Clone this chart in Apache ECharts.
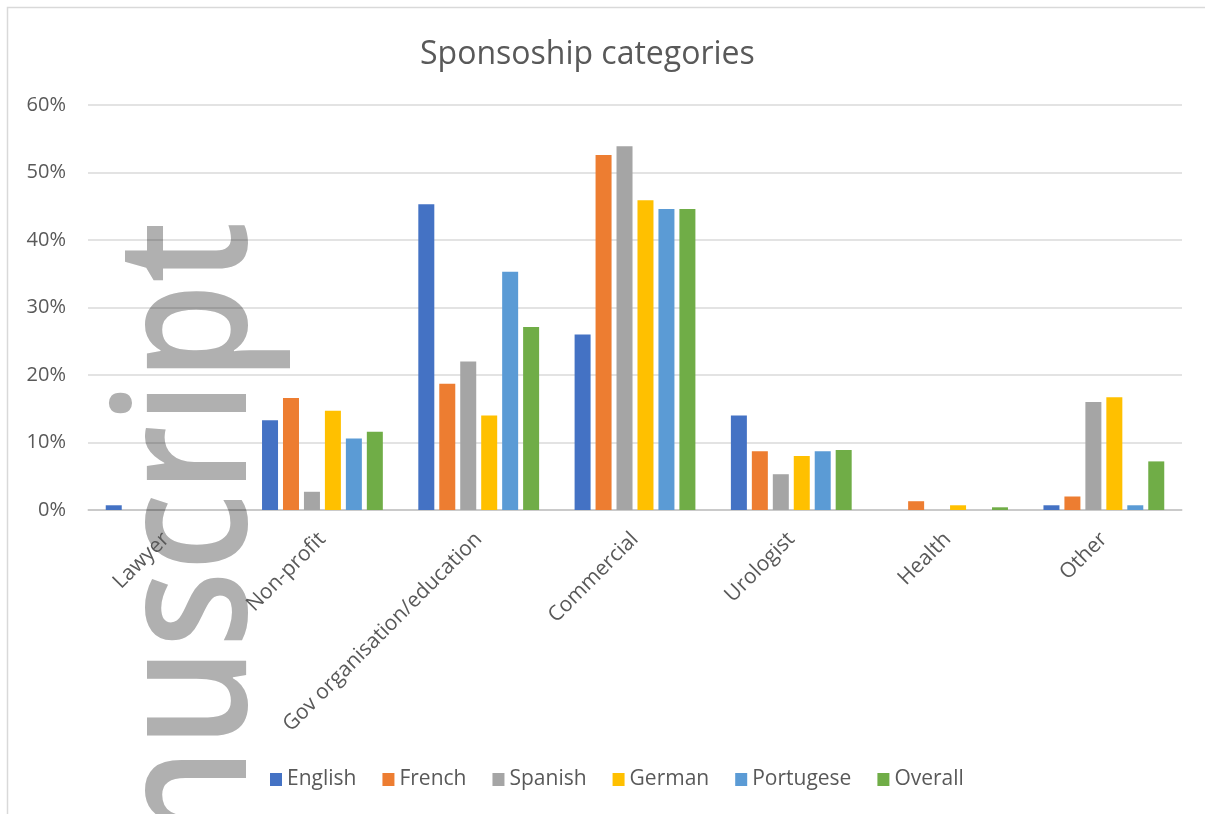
<!DOCTYPE html>
<html>
<head>
<meta charset="utf-8">
<script src="https://cdn.jsdelivr.net/npm/echarts@6/dist/echarts.min.js"></script>
<style>html,body{margin:0;padding:0;background:#fff;}#chart{width:1205px;height:814px;}</style>
</head>
<body>
<div id="chart"></div>
<script>
const categories = ['Lawyer', 'Non-profit', 'Gov organisation/education', 'Commercial', 'Urologist', 'Health', 'Other'];
const seriesNames = ['English', 'French', 'Spanish', 'German', 'Portugese', 'Overall'];
const english   = [0.7, 13.3, 45.3, 26.0, 14.0, 0,   0.7];
const french    = [0,   16.6, 18.7, 52.6, 8.7,  1.3, 2.0];
const spanish   = [0,   2.7,  22.0, 53.9, 5.3,  0,   16.0];
const german    = [0,   14.7, 14.0, 45.9, 8.0,  0.7, 16.7];
const portugese = [0,   10.6, 35.3, 44.6, 8.7,  0,   0.7];
const overall   = [0,   11.6, 27.1, 44.6, 8.9,  0.4, 7.2];
const yTicks = [0, 10, 20, 30, 40, 50, 60];
const titleText = 'Sponsoship categories';
const watermarkText = 'nuscript';

const colors = ['#4472C4', '#ED7D31', '#A5A5A5', '#FFC000', '#5B9BD5', '#70AD47'];
const values = [english, french, spanish, german, portugese, overall];
const font = 'Open Sans';

const chart = echarts.init(document.getElementById('chart'), null, {renderer: 'canvas'});
chart.setOption({
  animation: false,
  backgroundColor: '#ffffff',
  color: colors,
  title: {
    text: titleText,
    left: 415,
    top: 34,
    textStyle: {fontFamily: font, fontSize: 32, fontWeight: 'normal', color: '#595959'}
  },
  legend: {
    data: seriesNames,
    left: 265,
    top: 764,
    itemWidth: 12,
    itemHeight: 13,
    itemGap: 26,
    icon: 'rect',
    textStyle: {fontFamily: font, fontSize: 21, color: '#595959'}
  },
  grid: {left: 88, right: 23, top: 105, bottom: 304, containLabel: false},
  xAxis: {
    type: 'category',
    data: categories,
    axisTick: {show: false},
    axisLine: {lineStyle: {color: 'rgba(0,0,0,0.15)', width: 1.5}},
    axisLabel: {interval: 0, rotate: 45, margin: 26, fontFamily: font, fontSize: 21, color: '#595959'}
  },
  yAxis: {
    type: 'value',
    min: yTicks[0],
    max: yTicks[yTicks.length - 1],
    interval: 10,
    axisLine: {show: false},
    axisTick: {show: false},
    splitLine: {lineStyle: {color: 'rgba(0,0,0,0.15)', width: 1.5}},
    axisLabel: {formatter: '{value}%', margin: 22, fontFamily: font, fontSize: 20, color: '#595959'}
  },
  graphic: {
    elements: [
      {
        type: 'rect', z: -20, silent: true,
        shape: {x: 7.5, y: 7.5, width: 1400, height: 1000},
        style: {fill: 'none', stroke: '#d9d9d9', lineWidth: 1.5}
      },
      {
        type: 'text', z: -10, silent: true,
        x: 194, y: 221,
        rotation: Math.PI / 2,
        scaleX: 0.86, scaleY: 1,
        style: {text: watermarkText, fontFamily: font, fontSize: 183, fontWeight: 600, fill: '#b0b0b0', align: 'right', verticalAlign: 'middle'}
      }
    ]
  },
  series: seriesNames.map((name, i) => ({
    name: name,
    type: 'bar',
    data: values[i],
    barWidth: 16,
    barGap: '31%'
  }))
});
</script>
</body>
</html>
